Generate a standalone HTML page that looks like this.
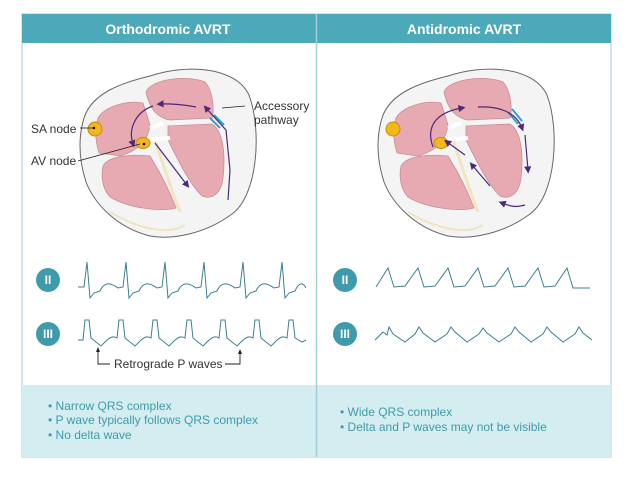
<!DOCTYPE html><html><head><style>
body{margin:0;background:#fff;width:633px;height:484px;overflow:hidden;font-family:"Liberation Sans",sans-serif}
</style></head><body>
<svg width="633" height="484" viewBox="0 0 633 484" xmlns="http://www.w3.org/2000/svg" font-family="Liberation Sans, sans-serif">
<rect x="22" y="14" width="589" height="443" fill="#fff" stroke="#9fcfd8"/>
<rect x="22" y="14" width="589" height="29" fill="#4ba9ba"/>
<rect x="22" y="385" width="589" height="72" fill="#d3edf1"/>
<line x1="316.5" y1="14" x2="316.5" y2="457" stroke="#9fcfd8" stroke-width="1.5"/>
<text x="168" y="34" fill="#fff" font-size="14" font-weight="bold" text-anchor="middle">Orthodromic AVRT</text>
<text x="464" y="34" fill="#fff" font-size="14" font-weight="bold" text-anchor="middle">Antidromic AVRT</text>
<defs><marker id="a" markerWidth="6" markerHeight="6" refX="3" refY="3" orient="auto"><path d="M0,0L6,3L0,6z" fill="#4b2a7a"/></marker></defs>
<g id="h">
<path d="M84,118 C92,92 125,82 150,76 C185,64 235,66 249,95 C262,130 258,195 232,214 C205,234 172,240 150,236 C118,228 95,205 86,182 C79,160 78,138 84,118Z" fill="#f4f4f4" stroke="#666" stroke-width="1"/>
<path d="M98,118 C105,106 128,100 143,103 L150,125 C148,140 140,150 120,156 L99,153 C95,140 95,128 98,118Z" fill="#e8aab2" stroke="#c98e96" stroke-width="0.8"/>
<path d="M146,92 C150,80 185,74 205,82 C214,92 214,112 212,118 L170,120 C158,118 150,110 146,92Z" fill="#e8aab2" stroke="#c98e96" stroke-width="0.8"/>
<path d="M168,126 L212,124 C222,130 226,150 223,178 C221,194 212,200 202,196 C190,185 178,160 168,140 Z" fill="#e8aab2" stroke="#c98e96" stroke-width="0.8"/>
<path d="M103,166 C108,156 130,154 150,156 C160,172 170,192 176,208 C160,212 128,208 110,197 C102,188 101,176 103,166Z" fill="#e8aab2" stroke="#c98e96" stroke-width="0.8"/>
<path d="M155,140 C165,170 175,200 180,212" fill="none" stroke="#efe6c0" stroke-width="3"/>
<path d="M110,212 C140,230 170,235 185,225" fill="none" stroke="#efe6c0" stroke-width="2"/>
<path d="M150,128 L163,123 M147,140 L170,138" stroke="#fff" stroke-width="4" fill="none"/>
<ellipse cx="95" cy="129" rx="7" ry="7" fill="#f4b71a" stroke="#c98b00"/>
</g>
<use href="#h" transform="translate(298,0)"/>
<ellipse cx="143" cy="143" rx="7" ry="5.5" fill="#f4b71a" stroke="#c98b00"/>
<circle cx="144" cy="144" r="1.3" fill="#000"/><circle cx="94" cy="128" r="1.2" fill="#000"/>
<line x1="210" y1="118" x2="220" y2="128" stroke="#3a9fd0" stroke-width="2"/><line x1="214" y1="115" x2="224" y2="125" stroke="#3a9fd0" stroke-width="2"/>
<path d="M196,107 C175,103 160,104 160,104" fill="none" stroke="#4b2a7a" stroke-width="1.2" marker-end="url(#a)"/>
<path d="M153,106 C135,112 128,130 133,144" fill="none" stroke="#4b2a7a" stroke-width="1.2" marker-end="url(#a)"/>
<path d="M155,143 L187,185" fill="none" stroke="#4b2a7a" stroke-width="1.2" marker-end="url(#a)"/>
<path d="M228,200 L230,170 L226,130 L206,108" fill="none" stroke="#4b2a7a" stroke-width="1.2" marker-end="url(#a)"/>
<line x1="222" y1="108" x2="245" y2="106" stroke="#222" stroke-width="0.8"/>
<line x1="80" y1="128" x2="93" y2="128" stroke="#222" stroke-width="0.8"/>
<line x1="78" y1="161" x2="140" y2="144" stroke="#222" stroke-width="0.8"/>
<g font-size="12" fill="#333"><text x="254" y="110">Accessory</text><text x="254" y="124">pathway</text><text x="31" y="133">SA node</text><text x="31" y="165">AV node</text></g>
<ellipse cx="441" cy="143" rx="7" ry="5.5" fill="#f4b71a" stroke="#c98b00"/>
<line x1="508" y1="112" x2="518" y2="124" stroke="#3a9fd0" stroke-width="2"/><line x1="512" y1="109" x2="522" y2="121" stroke="#3a9fd0" stroke-width="2"/>
<path d="M478,107 C495,106 515,110 522,128" fill="none" stroke="#4b2a7a" stroke-width="1.2" marker-end="url(#a)"/>
<path d="M525,135 L528,170" fill="none" stroke="#4b2a7a" stroke-width="1.2" marker-end="url(#a)"/>
<path d="M525,205 C515,208 510,206 502,203" fill="none" stroke="#4b2a7a" stroke-width="1.2" marker-end="url(#a)"/>
<path d="M490,186 L472,165" fill="none" stroke="#4b2a7a" stroke-width="1.2" marker-end="url(#a)"/>
<path d="M465,155 L447,142" fill="none" stroke="#4b2a7a" stroke-width="1.2" marker-end="url(#a)"/>
<path d="M433,147 C425,125 438,112 462,108" fill="none" stroke="#4b2a7a" stroke-width="1.2" marker-end="url(#a)"/>
<g fill="#3f9bab"><circle cx="48" cy="280" r="12"/><circle cx="48" cy="334" r="12"/><circle cx="345" cy="280" r="12"/><circle cx="345" cy="334" r="12"/></g>
<g fill="#fff" font-size="12" font-weight="bold" text-anchor="middle"><text x="48" y="284">II</text><text x="48" y="338">III</text><text x="345" y="284">II</text><text x="345" y="338">III</text></g>
<g fill="none" stroke="#3d7f8f" stroke-width="1">
<path d="M78,287 L84,287 L87,262 L90,298 L94,293 L100,291 C104,282 110,282 118,288 L123,287 L126,262 L129,298 L133,293 L139,291 C143,282 149,282 157,288 L162,287 L165,262 L168,298 L172,293 L178,291 C182,282 188,282 196,288 L201,287 L204,262 L207,298 L211,293 L217,291 C221,282 227,282 235,288 L240,287 L243,262 L246,298 L250,293 L256,291 C260,282 266,282 274,288 L279,287 L282,262 L285,298 L289,293 L295,291 C299,282 303,282 306,288"/>
<path d="M78,340 L83,340 L85,320 L89,320 L91,338 L101,346 L105,342 C111,336 114,336 117,338 L119,320 L123,320 L125,338 L135,346 L139,342 C145,336 148,336 151,338 L153,320 L157,320 L159,338 L169,346 L173,342 C179,336 182,336 185,338 L187,320 L191,320 L193,338 L203,346 L207,342 C213,336 216,336 219,338 L221,320 L225,320 L227,338 L237,346 L241,342 C247,336 250,336 253,338 L255,320 L259,320 L261,338 L271,346 L275,342 C281,336 284,336 287,338 L289,320 L293,320 L295,338 L302,342 L306,340"/>
<path d="M376,287 L388,268 L394,287 L405,286 L418,268 L424,287 L435,286 L448,268 L454,287 L465,286 L478,268 L484,287 L495,286 L508,268 L514,287 L525,286 L538,268 L544,287 L555,286 L567,268 L573,288 L590,288"/>
<path d="M375,340 L383,332 L387,335 L389,327 L393,334 L405,342 L415,334 L419,327 L423,333 L435,342 L447,334 L451,327 L455,332 L467,342 L479,334 L483,328 L487,333 L499,342 L511,334 L515,327 L519,332 L531,342 L543,334 L547,327 L551,332 L563,342 L575,334 L579,327 L583,333 L592,340"/>
</g>
<path d="M98,350 L98,364 L110,364 M225,364 L240,364 L240,352" fill="none" stroke="#222" stroke-width="0.9"/>
<path d="M96,352 L98,347 L100,352z M238,354 L240,349 L242,354z" fill="#222"/>
<text x="114" y="368" font-size="12" fill="#333">Retrograde P waves</text>
<g font-size="12" fill="#3f9bab">
<text x="48" y="410">• Narrow QRS complex</text><text x="48" y="424">• P wave typically follows QRS complex</text><text x="48" y="439">• No delta wave</text>
<text x="340" y="416">• Wide QRS complex</text><text x="340" y="431">• Delta and P waves may not be visible</text>
</g>
</svg>
</body></html>
